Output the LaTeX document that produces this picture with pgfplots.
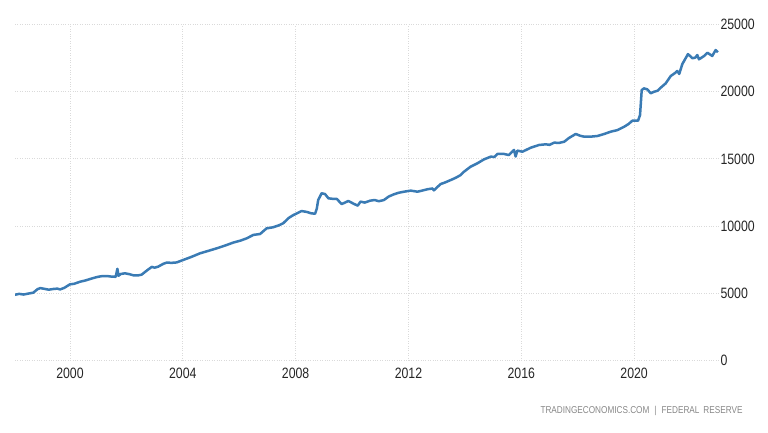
\documentclass[border=0pt]{standalone}
\usepackage{fontspec}
\setmainfont[FakeStretch=0.82]{Liberation Sans}
\usepackage{pgfplots}
\pgfplotsset{compat=1.18}

\definecolor{teline}{RGB}{58,123,180}
\definecolor{tegrid}{RGB}{218,218,218}
\definecolor{tefoot}{RGB}{135,135,135}

\begin{document}
\begin{tikzpicture}[x=1pt,y=1pt]
\path[use as bounding box] (0,0) rectangle (768,432);
\begin{axis}[
    at={(15pt,71.7pt)}, anchor=south west,
    scale only axis,
    width=704pt, height=335.6pt,
    xmin=1998.05, xmax=2023.01,
    ymin=0, ymax=25000,
    xtick={2000,2004,...,2020},
    ytick={0,5000,...,25000},
    scaled ticks=false,
    /pgf/number format/.cd, set thousands separator={}, assume math mode=true, /pgfplots/.cd,
    xticklabel={\pgfmathprintnumber[precision=0]{\tick}},
    axis line style={draw=none},
    major tick length=0pt,
    grid=major,
    grid style={dotted, tegrid, line width=1pt},
    yticklabel pos=right,
    ticklabel style={font=\fontsize{15}{17}\selectfont, text=black!85},
    yticklabel style={anchor=west, xshift=-2pt},
    xticklabel style={yshift=-4pt},
]
\addplot[teline, line width=2.5pt, line join=round] coordinates {
(1998.05,4880) (1998.2,4950) (1998.35,4900) (1998.5,4960) (1998.7,5040)
(1998.85,5300) (1998.95,5380) (1999.1,5320) (1999.25,5260) (1999.4,5310)
(1999.55,5340) (1999.65,5280) (1999.8,5400) (2000.0,5660) (2000.15,5700)
(2000.35,5850) (2000.55,5950) (2000.75,6080) (2000.95,6200) (2001.1,6260)
(2001.3,6280) (2001.45,6240) (2001.62,6220) (2001.68,6820) (2001.72,6300)
(2001.8,6430) (2001.95,6480) (2002.1,6420) (2002.25,6330) (2002.4,6320)
(2002.54,6380) (2002.72,6680) (2002.9,6960) (2003.0,6900) (2003.13,6980)
(2003.3,7180) (2003.43,7280) (2003.6,7260) (2003.78,7290) (2004.02,7480)
(2004.3,7700) (2004.61,7970) (2004.9,8150) (2005.2,8340) (2005.5,8550)
(2005.79,8770) (2006.05,8920) (2006.27,9090) (2006.5,9340) (2006.74,9410)
(2006.97,9830) (2007.2,9910) (2007.4,10050) (2007.56,10210) (2007.75,10600)
(2007.92,10820) (2008.05,10950) (2008.21,11120) (2008.4,11050) (2008.55,10950)
(2008.69,10920) (2008.75,11300) (2008.8,11940) (2008.92,12440) (2009.04,12390)
(2009.16,12070) (2009.34,12020) (2009.46,12020) (2009.63,11640) (2009.75,11750)
(2009.87,11870) (2010.04,11680) (2010.2,11520) (2010.3,11820) (2010.45,11750)
(2010.64,11890) (2010.8,11940) (2010.95,11850) (2011.13,11940) (2011.3,12200)
(2011.49,12370) (2011.65,12480) (2011.84,12560) (2012.08,12640) (2012.32,12560)
(2012.5,12650) (2012.67,12740) (2012.85,12800) (2012.9,12660) (2013.14,13130)
(2013.3,13250) (2013.5,13430) (2013.68,13600) (2013.85,13800) (2013.97,14050)
(2014.2,14420) (2014.44,14670) (2014.68,14970) (2014.92,15170) (2015.05,15150)
(2015.15,15370) (2015.39,15370) (2015.56,15290) (2015.65,15480) (2015.74,15670)
(2015.8,15180) (2015.86,15620) (2016.04,15540) (2016.2,15700) (2016.34,15840)
(2016.5,15950) (2016.63,16040) (2016.87,16090) (2017.0,16050) (2017.16,16210)
(2017.35,16200) (2017.52,16280) (2017.69,16560) (2017.93,16860) (2018.1,16720)
(2018.23,16660) (2018.46,16660) (2018.7,16710) (2018.94,16860) (2019.17,17030)
(2019.41,17150) (2019.65,17400) (2019.8,17600) (2019.94,17850) (2020.14,17850)
(2020.21,18270) (2020.27,20130) (2020.35,20260) (2020.47,20180) (2020.59,19890)
(2020.7,20000) (2020.83,20080) (2020.94,20300) (2021.12,20630) (2021.3,21180)
(2021.45,21400) (2021.53,21550) (2021.6,21330) (2021.71,22070) (2021.91,22810)
(2022.07,22500) (2022.17,22550) (2022.24,22740) (2022.3,22420) (2022.48,22670)
(2022.6,22910) (2022.77,22670) (2022.89,23110) (2022.97,22940)
};
\end{axis}
\node[anchor=east, text=tefoot, font=\fontsize{10}{12}\selectfont] at (746,21) {TRADINGECONOMICS.COM \;|\; FEDERAL \,RESERVE};
\end{tikzpicture}
\end{document}
